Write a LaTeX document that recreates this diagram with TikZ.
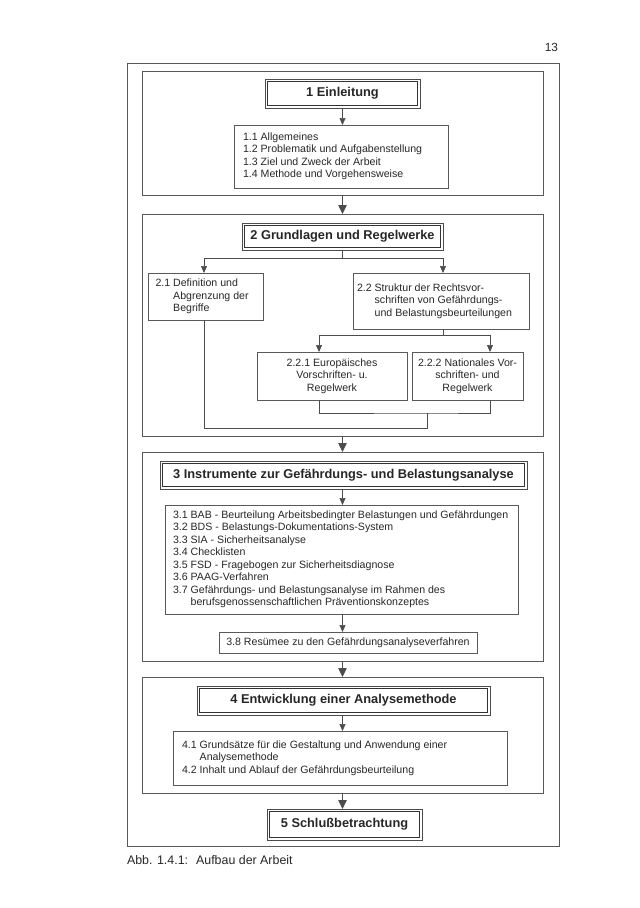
\documentclass[tikz,border=0pt]{standalone}
\usepackage{fontspec}
\setmainfont{Liberation Sans}
\usetikzlibrary{arrows.meta}
\begin{document}
\begin{tikzpicture}[x=1pt,y=-1pt,
  every node/.style={outer sep=0pt, text=black!85},
  frame/.style={draw=black!65, line width=0.7pt, rectangle, inner sep=0pt},
  headbox/.style={draw=black!70, line width=0.6pt, rectangle, inner sep=0pt, font=\fontsize{12.8}{15}\selectfont\bfseries, align=center},
  inner/.style={draw=black!80, line width=0.8pt},
  box/.style={draw=black!65, line width=0.6pt, rectangle, inner sep=0pt},
  txt/.style={inner sep=0pt, font=\fontsize{10.6}{12.5}\selectfont, align=left, anchor=west},
  ctrbox/.style={box, font=\fontsize{10.6}{12.5}\selectfont, align=center},
  plain/.style={font=\fontsize{12.4}{14}\selectfont, inner sep=0pt},
  conn/.style={draw=black!70, line width=0.6pt},
  arr/.style={conn, -{Triangle[width=6pt,length=7pt]}},
  bigarr/.style={conn, line width=0.8pt, -{Triangle[width=8.5pt,length=9pt]}}
]
\useasboundingbox (0,0) rectangle (640,908);

% page number and outer frame
\node[plain, anchor=east, font=\fontsize{11.8}{14}\selectfont] (pnum) at (558,47) {13};
\node[frame, minimum width=432pt, minimum height=783pt] (outer) at (343,454.5) {};

% section frames
\node[frame, minimum width=401pt, minimum height=124pt] (s1) at (342.5,133) {};
\node[frame, minimum width=401pt, minimum height=222pt] (s2) at (342.5,325) {};
\node[frame, minimum width=401pt, minimum height=209pt] (s3) at (342.5,556.5) {};
\node[frame, minimum width=401pt, minimum height=116pt] (s4) at (342.5,735) {};

% section 1
\node[headbox, minimum width=155pt, minimum height=29pt] (h1) at (342.5,93.5) {1 Einleitung};
\node[box, minimum width=214pt, minimum height=63pt] (b1) at (341,156.5) {};
\node[txt] (t1) at ([xshift=9pt]b1.west)
  {1.1 Allgemeines\\1.2 Problematik und Aufgabenstellung\\1.3 Ziel und Zweck der Arbeit\\1.4 Methode und Vorgehensweise};

% section 2
\node[headbox, minimum width=201pt, minimum height=27pt] (h2) at (342.5,236.5) {2 Grundlagen und Regelwerke};
\node[box, minimum width=115pt, minimum height=47pt] (b21) at (206,296.5) {};
\node[txt] (t21) at ([xshift=7pt]b21.west)
  {2.1 Definition und\\\phantom{2.1 }Abgrenzung der\\\phantom{2.1 }Begriffe};
\node[box, minimum width=176pt, minimum height=56pt] (b22) at (441,301) {};
\node[txt] (t22) at ([xshift=4pt]b22.west)
  {2.2 Struktur der Rechtsvor-\\\phantom{2.2 }schriften von Gef\"ahrdungs-\\\phantom{2.2 }und Belastungsbeurteilungen};
\node[ctrbox, minimum width=150pt, minimum height=48pt] (b221) at (332,376)
  {2.2.1 Europ\"aisches\\Vorschriften- u.\\Regelwerk};
\node[ctrbox, minimum width=111pt, minimum height=48pt] (b222) at (467.5,376)
  {2.2.2 Nationales Vor-\\schriften- und\\Regelwerk};

\coordinate (j2) at (342.5,258);
\coordinate (j2l) at (204,258);
\coordinate (j2r) at (443,258);
\coordinate (j22) at (443,335);
\coordinate (j22l) at (319,335);
\coordinate (j22r) at (490,335);
\coordinate (jb) at (427,413);
\coordinate (jc) at (427,428);

\draw[conn] (h2.south) -- (j2);
\draw[conn] (j2l) -- (j2r);
\draw[arr] (j2l) -- (j2l |- b21.north);
\draw[arr] (j2r) -- (j2r |- b22.north);
\draw[conn] (j22 |- b22.south) -- (j22);
\draw[conn] (j22l) -- (j22r);
\draw[arr] (j22l) -- (j22l |- b221.north);
\draw[arr] (j22r) -- (j22r |- b222.north);
\draw[conn] (j22l |- b221.south) |- (jb) -| (j22r |- b222.south);
\draw[conn] (jb) -- (jc) -| (j2l |- b21.south);

% section 3
\node[headbox, minimum width=367pt, minimum height=28pt] (h3) at (343.5,475) {3 Instrumente zur Gef\"ahrdungs- und Belastungsanalyse};
\node[box, minimum width=353pt, minimum height=109pt] (b3) at (341.5,559.5) {};
\node[txt] (t3) at ([xshift=8pt]b3.west)
  {3.1 BAB - Beurteilung Arbeitsbedingter Belastungen und Gef\"ahrdungen\\
   3.2 BDS - Belastungs-Dokumentations-System\\
   3.3 SIA - Sicherheitsanalyse\\
   3.4 Checklisten\\
   3.5 FSD - Fragebogen zur Sicherheitsdiagnose\\
   3.6 PAAG-Verfahren\\
   3.7 Gef\"ahrdungs- und Belastungsanalyse im Rahmen des\\
   \phantom{3.7 }berufsgenossenschaftlichen Pr\"aventionskonzeptes};
\node[ctrbox, minimum width=258pt, minimum height=21pt] (b38) at (348,642.5)
  {3.8 Res\"umee zu den Gef\"ahrdungsanalyseverfahren};

% section 4
\node[headbox, minimum width=293pt, minimum height=29pt] (h4) at (343.5,700.5) {4 Entwicklung einer Analysemethode};
\node[box, minimum width=334pt, minimum height=54pt] (b4) at (340,758) {};
\node[txt] (t4) at ([xshift=9pt]b4.west)
  {4.1 Grunds\"atze f\"ur die Gestaltung und Anwendung einer\\
   \phantom{4.1 }Analysemethode\\
   4.2 Inhalt und Ablauf der Gef\"ahrdungsbeurteilung};

% section 5
\node[headbox, minimum width=155pt, minimum height=31pt] (h5) at (344.5,824.5) {5 Schlu\ss betrachtung};

% inner lines of the double frames
\foreach \h in {h1,h2,h3,h4,h5}
  \draw[inner] ([shift={(2.5,2.5)}]\h.north west) rectangle ([shift={(-2.5,-2.5)}]\h.south east);

% arrows
\draw[arr] (h1.south) -- (h1.south |- b1.north);
\draw[bigarr] (s1.south) -- (s2.north);
\draw[bigarr] (s2.south) -- (s3.north);
\draw[arr] (h3.south -| s3.south) -- (s3.south |- b3.north);
\draw[arr] (b3.south -| s3.south) -- (s3.south |- b38.north);
\draw[bigarr] (s3.south) -- (s4.north);
\draw[arr] (h4.south -| s4.south) -- (s4.south |- b4.north);
\draw[bigarr] (s4.south) -- (s4.south |- h5.north);

% caption
\node[plain, anchor=west] (cap) at (127,860) {Abb. 1.4.1:\hspace{8pt}Aufbau der Arbeit};
\end{tikzpicture}
\end{document}
